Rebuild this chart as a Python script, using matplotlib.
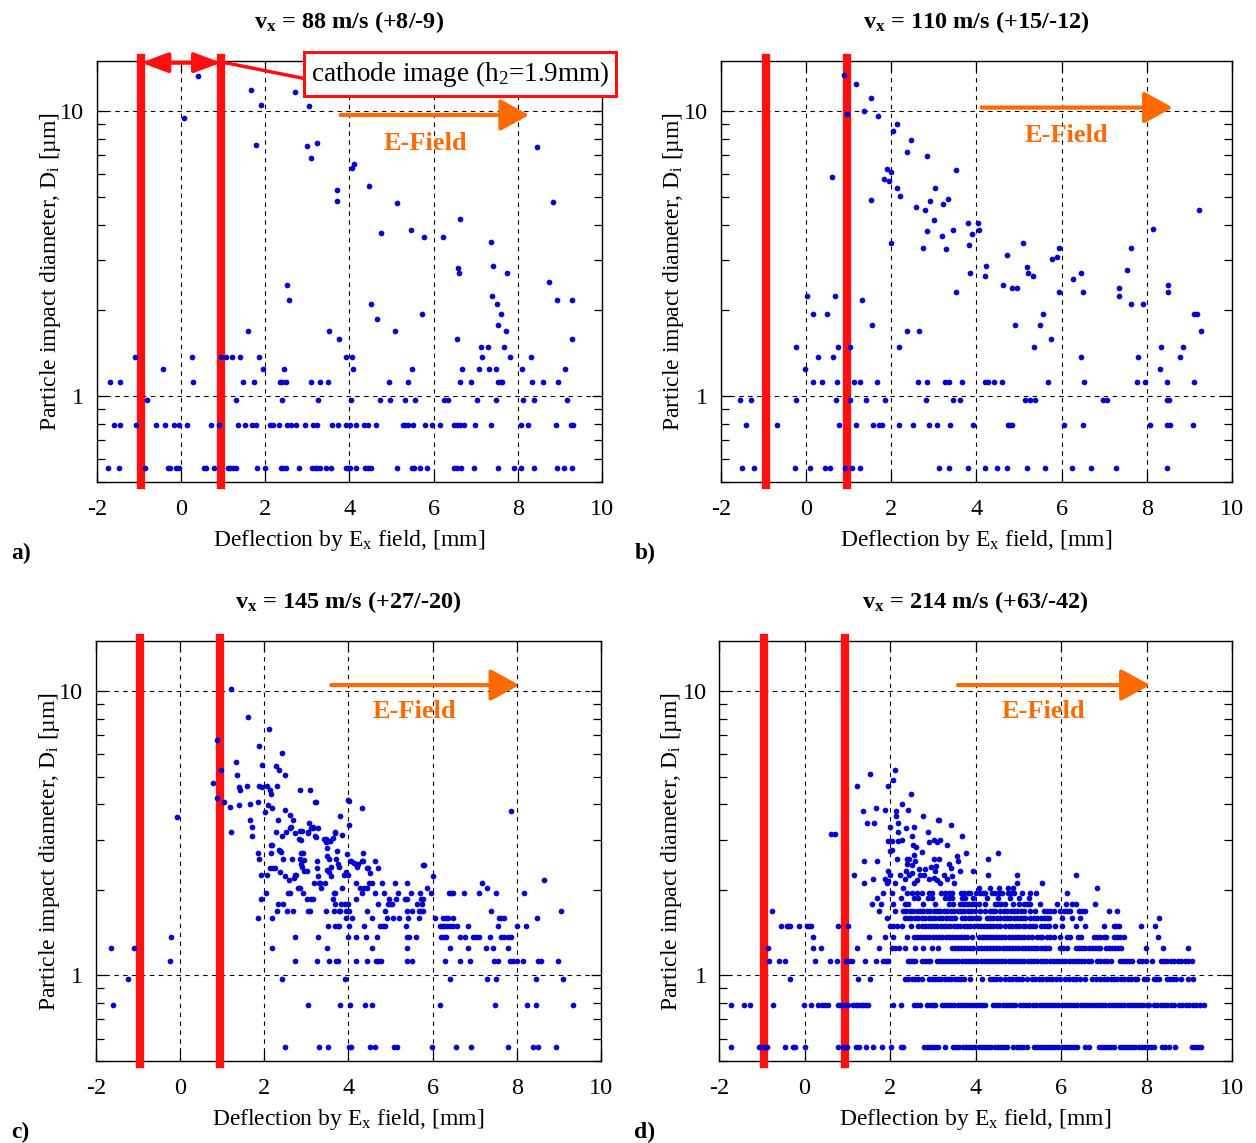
import matplotlib

matplotlib.use("Agg")

import matplotlib.pyplot as plt
from matplotlib.ticker import FixedLocator, FixedFormatter, LogLocator, NullFormatter

plt.rcParams["font.family"] = "Liberation Serif"
plt.rcParams["mathtext.fontset"] = "custom"
plt.rcParams["mathtext.rm"] = "Liberation Serif"
plt.rcParams["mathtext.it"] = "Liberation Serif:italic"
plt.rcParams["mathtext.bf"] = "Liberation Serif:bold"
plt.rcParams["axes.unicode_minus"] = False

DOT = "#0404cc"
RED = "#ff1010"
ORANGE = "#ff6a00"

TITLES = [
    r"$\mathbf{v_x}$ = 88 m/s (+8/-9)",
    r"$\mathbf{v_x}$ = 110 m/s (+15/-12)",
    r"$\mathbf{v_x}$ = 145 m/s (+27/-20)",
    r"$\mathbf{v_x}$ = 214 m/s (+63/-42)",
]
LETTERS = ["a)", "b)", "c)", "d)"]
CATHODE_EDGES = [-0.95, 0.95]

# ---- panel a: scattered points (x [mm], D [um]) and quantised rows ----
A_X = [0.40, 0.07, 1.65, 1.90, 2.70, 3.05, 1.78, 2.98, 3.23, 3.09, 4.06, 4.10, 3.71, 3.71,
       4.47, 5.14, 4.75, 5.46, 5.78, 6.23, 6.63, 6.58, 6.60, 7.36, 7.40, 7.74, 8.45, 8.84,
       8.74, 8.92, 9.29, 9.29, 2.52, 2.57, 1.59, 3.52, 3.76, 4.52, 4.66, 5.09, 5.72, 7.38,
       7.50, 7.59, 7.54, 7.72, 6.56, 7.12, 7.30, 7.66]
A_D = [13.3, 9.5, 11.9, 10.5, 11.7, 10.4, 7.6, 7.57, 7.73, 6.88, 6.32, 6.53, 5.3, 4.86,
       5.48, 4.76, 3.75, 3.83, 3.61, 3.61, 4.18, 2.81, 2.71, 3.47, 2.87, 2.70, 7.5, 4.81,
       2.52, 2.18, 2.18, 1.59, 2.45, 2.18, 1.69, 1.69, 1.59, 2.11, 1.86, 1.69, 1.95, 2.25,
       2.11, 1.95, 1.78, 1.69, 1.59, 1.49, 1.49, 1.49]
A_ROWS = {
    0.56: [-1.73, -1.48, -0.87, -0.32, -0.26, -0.13, -0.06, 0.54, 0.59, 0.77, 1.11, 1.16, 1.23,
           1.30, 1.81, 2.00, 2.38, 2.43, 2.49, 2.79, 3.10, 3.17, 3.22, 3.29, 3.45, 3.56, 3.91,
           3.96, 4.02, 4.15, 4.38, 4.43, 4.50, 5.14, 5.48, 5.53, 5.67, 5.83, 6.48, 6.55, 6.65,
           6.96, 7.54, 7.91, 8.07, 8.38, 8.93, 9.10, 9.28],
    0.79: [-1.59, -1.45, -1.08, -0.59, -0.39, -0.16, -0.06, 0.14, 0.71, 0.89, 1.34, 1.52, 1.68,
           1.78, 2.12, 2.19, 2.32, 2.52, 2.62, 2.72, 2.95, 3.13, 3.22, 3.59, 3.72, 3.91, 4.01,
           4.15, 4.35, 4.43, 4.63, 5.26, 5.33, 5.40, 5.50, 5.80, 5.95, 6.14, 6.48, 6.56, 6.63,
           6.71, 6.98, 7.37, 8.08, 8.23, 8.91, 9.26, 9.30],
    0.97: [-0.81, 1.31, 2.40, 3.25, 4.03, 4.72, 4.96, 5.33, 5.56, 6.25, 6.34, 7.02, 7.47, 8.12,
           8.38, 9.18],
    1.12: [-1.70, -1.45, 0.29, 1.48, 1.73, 2.34, 2.40, 2.49, 3.09, 3.29, 3.50, 4.95, 5.39, 6.63,
           6.89, 7.53, 7.59, 7.63, 8.34, 8.60, 8.95],
    1.25: [-0.43, 1.94, 2.45, 4.09, 5.49, 6.67, 7.08, 7.31, 7.47, 8.11, 9.12],
    1.37: [-1.09, 0.27, 0.94, 1.06, 1.22, 1.41, 1.84, 3.92, 4.06, 7.16, 7.81, 8.32],
}

# ---- panel b ----
B_X = [0.88, 0.96, 1.17, 1.53, 1.35, 1.69, 2.13, 2.04, 2.46, 2.38, 2.83, 0.60, 1.89, 1.99,
       1.84, 1.95, 3.52, 2.14, 2.21, 3.02, 1.52, 2.58, 2.80, 2.91, 3.21, 3.32, 3.00, 2.84,
       2.74, 3.20, 3.29, 3.45, 1.99, 3.79, 4.04, 4.07, 3.89, 3.82, 3.85, 3.51, 4.23, 4.20,
       4.71, 4.63, 4.84, 4.96, 5.10, 5.19, 5.21, 5.32, 5.77, 5.89, 5.93, 5.93, 6.27, 6.45,
       6.49, 7.53, 7.63, 7.35, 7.35, 7.63, 7.90, 8.15, 8.49, 8.50, 9.23, 9.10, 9.17, 9.27,
       8.34, 8.85, 8.79, 8.31, 7.80, 6.45, 5.57, 5.48, 4.91, 5.74, 5.36, 0.03, 0.68, 1.31,
       0.15, 0.49, 1.55, 2.36, 2.66, -0.24, 0.76, 1.02, 2.18, 0.29, 0.64, -0.02]
B_D = [13.4, 9.8, 12.5, 11.1, 10.0, 9.6, 9.04, 8.5, 7.9, 7.18, 6.95, 5.9, 6.27, 6.14,
       5.78, 5.7, 6.2, 5.39, 5.05, 5.39, 4.89, 4.63, 4.5, 4.86, 4.73, 4.94, 4.15, 3.79,
       3.32, 3.65, 3.29, 3.83, 3.44, 4.06, 4.06, 3.83, 3.71, 3.38, 2.70, 2.32, 2.87, 2.65,
       3.13, 2.45, 2.39, 2.39, 3.44, 2.83, 2.71, 2.65, 3.03, 3.08, 3.32, 2.32, 2.58, 2.70,
       2.32, 2.77, 3.32, 2.39, 2.25, 2.11, 2.11, 3.87, 2.45, 2.32, 4.5, 1.95, 1.95, 1.69,
       1.49, 1.49, 1.37, 1.25, 1.37, 1.37, 1.95, 1.78, 1.78, 1.59, 1.49, 2.25, 2.25, 2.18,
       1.95, 1.95, 1.78, 1.69, 1.69, 1.49, 1.49, 1.49, 1.49, 1.37, 1.37, 1.25]
B_ROWS = {
    0.56: [-1.51, -1.23, -0.27, 0.09, 0.45, 0.57, 0.91, 1.08, 1.27, 3.12, 3.35, 3.79, 4.20,
           4.49, 4.71, 5.18, 5.62, 6.24, 6.70, 7.27, 8.48],
    0.79: [-1.41, -0.68, 0.78, 1.18, 1.56, 1.70, 1.77, 2.17, 2.52, 2.88, 3.08, 3.38, 3.92,
           4.74, 4.78, 4.83, 6.05, 6.50, 8.08, 8.47, 8.55, 9.09],
    0.97: [-1.55, -1.29, -0.24, 0.69, 1.03, 1.40, 1.85, 2.82, 3.45, 3.62, 5.13, 5.25, 5.37,
           6.96, 7.07, 8.47, 8.53],
    1.12: [0.16, 0.37, 0.73, 1.13, 1.26, 1.66, 2.62, 2.84, 3.26, 3.36, 3.66, 4.20, 4.27, 4.40,
           4.60, 5.68, 6.52, 7.77, 7.95, 8.48, 9.10],
}

# ---- panel c ----
C_X = [-0.08, 0.87, 0.97, 0.79, 0.87, 1.20, 1.62, 2.12, 1.88, 2.43, 1.32, 1.34, 1.95, 2.28,
       2.34, 2.49, 1.39, 1.43, 1.58, 1.88, 1.95, 2.07, 2.14, 2.17, 2.30, 1.05, 1.18, 1.39,
       1.67, 1.86, 2.09, 2.19, 2.01, 2.86, 3.09, 3.20, 3.99, 4.32, 4.01, 3.81, 2.50, 2.62,
       2.68, 2.32, 1.22, 1.67, 1.70, 1.70, 2.27, 2.41, 2.52, 2.60, 2.63, 2.74, 2.82, 2.87,
       2.85, 3.06, 3.10, 3.16, 3.28, 3.05, 3.21, 3.67, 3.85, 3.43, 3.46, 3.52, 3.57, 3.63,
       2.16, 2.18, 2.38, 2.36, 2.40, 2.45, 1.84, 1.88, 2.16, 2.65, 2.87, 2.91, 2.86, 2.94,
       2.87, 2.89, 2.94, 3.02, 3.25, 3.25, 3.48, 3.49, 3.54, 3.59, 3.54, 3.48, 3.73, 3.71,
       3.76, 3.78, 3.97, 4.03, 3.93, 3.90, 4.13, 4.21, 4.23, 4.35, 4.34, 4.44, 4.62, 4.69,
       2.13, 2.21, 2.26, 2.37, 2.48, 2.72, 2.71, 1.92, 2.07, 2.58, 2.75, 5.77, 6.00, 7.85,
       8.65, 3.27, 3.59, 3.98, 4.46, 4.51, 5.79, 3.23, 4.02, 3.15, 2.89, 3.03, 3.22, 3.47,
       3.55, 3.68, 4.07, 4.17, 4.32]
C_D = [3.6, 6.73, 5.27, 4.75, 4.22, 10.2, 8.1, 7.34, 6.41, 6.07, 5.61, 5.08, 5.49, 5.44,
       5.27, 5.05, 4.6, 4.48, 4.64, 4.64, 4.6, 4.64, 4.5, 4.33, 4.64, 4.07, 3.92, 3.96,
       4.01, 4.06, 3.96, 3.88, 3.75, 4.48, 4.48, 4.06, 4.15, 3.88, 3.38, 3.64, 3.83, 3.67,
       3.53, 3.53, 3.19, 3.53, 3.32, 3.09, 3.19, 3.09, 3.19, 3.30, 3.32, 3.16, 3.01, 3.0,
       3.23, 3.43, 3.30, 3.30, 3.29, 3.19, 3.09, 3.19, 3.13, 3.03, 2.94, 2.97, 2.96, 3.04,
       2.88, 2.88, 2.75, 2.77, 2.71, 2.56, 2.69, 2.57, 2.69, 2.56, 2.69, 2.69, 2.56, 2.54,
       2.46, 2.40, 2.33, 2.33, 2.52, 2.38, 2.80, 2.63, 2.56, 2.40, 2.32, 2.34, 2.75, 2.56,
       2.46, 2.40, 2.68, 2.52, 2.32, 2.25, 2.48, 2.40, 2.46, 2.52, 2.70, 2.38, 2.52, 2.38,
       2.38, 2.38, 2.38, 2.32, 2.24, 2.25, 2.21, 2.25, 2.25, 2.17, 2.25, 2.44, 2.24, 3.78,
       2.17, 2.24, 2.24, 2.26, 2.38, 2.30, 2.45, 4.06, 4.10, 3.32, 3.23, 3.18, 3.08, 3.02,
       2.96, 3.17, 2.52, 2.46, 2.52]
C_ROWS = {
    0.56: [2.49, 3.29, 3.52, 4.01, 4.05, 4.52, 4.62, 5.07, 5.15, 5.99, 6.55, 6.90, 7.80, 8.39,
           8.51, 8.92],
    0.79: [-1.60, 3.03, 3.79, 4.04, 4.40, 4.56, 6.17, 7.49, 8.23, 8.45, 9.34],
    0.97: [-1.24, 2.41, 3.92, 6.41, 7.30, 7.50, 8.45, 9.10],
    1.12: [-0.23, 2.72, 3.26, 3.53, 3.71, 3.76, 4.19, 4.45, 4.65, 4.69, 4.77, 5.38, 5.52, 6.29,
           6.65, 6.89, 7.45, 7.56, 7.84, 7.91, 8.01, 8.15, 8.51, 8.57, 8.99],
    1.25: [-1.65, -1.09, 2.19, 3.49, 4.56, 5.38, 6.41, 6.85, 7.27, 7.44, 7.80],
    1.37: [-0.22, 2.72, 3.28, 3.99, 4.19, 4.42, 4.68, 5.38, 5.44, 5.61, 6.21, 6.27, 6.31, 6.65,
           6.77, 6.96, 7.03, 7.10, 7.36, 7.62, 7.70, 7.78, 7.87],
    1.49: [3.51, 3.69, 3.74, 3.78, 4.02, 4.37, 4.75, 4.81, 4.86, 5.37, 6.17, 6.22, 6.27, 6.35,
           6.41, 6.49, 6.57, 6.85, 7.56, 8.01, 8.21],
    1.59: [1.84, 2.19, 3.95, 4.09, 4.57, 4.92, 5.06, 5.19, 5.42, 5.68, 6.05, 6.25, 6.31, 6.37,
           6.49, 7.57, 7.63, 7.69, 8.48],
    1.69: [2.30, 2.53, 2.68, 3.04, 3.08, 3.46, 3.65, 3.78, 3.81, 3.93, 4.01, 4.45, 4.86, 5.40,
           5.52, 5.68, 5.72, 5.76, 7.38, 9.05],
    1.78: [2.32, 2.45, 3.67, 3.82, 3.91, 4.00, 4.70, 4.94, 4.99, 5.03, 5.62, 5.74],
    1.86: [1.93, 3.02, 3.11, 3.15, 3.64, 4.19, 4.96, 5.12, 5.34, 5.40, 5.72, 5.78],
    1.95: [2.05, 2.56, 2.60, 2.91, 3.65, 3.69, 4.32, 4.62, 4.85, 5.17, 5.49, 5.69, 5.95, 6.38,
           6.43, 6.48, 6.75, 7.09, 7.51, 8.17],
    2.03: [2.81, 2.85, 3.35, 3.84, 4.28, 4.38, 4.44, 5.87, 7.28],
    2.11: [3.17, 3.29, 3.32, 3.45, 4.18, 4.49, 4.56, 4.79, 5.10, 5.38, 7.18],
}

# ---- panel d ----
D_X = [2.11, 2.06, 1.95, 1.52, 1.22, 2.50, 2.28, 1.36, 1.66, 1.88, 2.14, 2.43, 2.77, 3.12,
       3.15, 3.42, 3.69, 1.45, 1.62, 2.19, 2.18, 2.00, 2.56, 2.38, 2.14, 0.63, 0.71, 1.96,
       2.04, 2.18, 2.28, 2.51, 2.53, 2.61, 2.91, 3.03, 3.11, 3.17, 3.34, 2.88, 2.00, 2.05,
       2.17, 2.39, 2.45, 2.56, 2.74, 3.03, 3.15, 3.37, 3.43, 3.56, 3.60, 3.78, 4.52, 4.29,
       1.39, 1.70, 2.39, 2.51, 2.59, 2.67, 2.82, 2.95, 3.08, 3.05, 1.95, 2.00, 1.88, 1.96,
       2.23, 2.35, 2.38, 2.45, 2.51, 2.63, 2.69, 2.80, 2.90, 3.02, 3.09, 3.27, 3.34, 3.45,
       3.64, 3.95, 4.29, 4.98, 6.35, 1.16, 1.59]
D_D = [5.27, 4.88, 4.64, 5.10, 4.64, 4.33, 4.02, 3.79, 3.88, 3.83, 3.79, 3.83, 3.65, 3.51,
       3.53, 3.37, 3.09, 3.43, 3.43, 3.43, 3.19, 3.32, 3.32, 3.29, 3.65, 3.14, 3.14, 2.98,
       2.98, 2.98, 2.99, 3.09, 2.88, 2.82, 2.94, 2.99, 2.94, 2.99, 2.88, 3.19, 2.75, 2.77,
       2.57, 2.57, 2.57, 2.66, 2.71, 2.57, 2.57, 2.46, 2.38, 2.64, 2.52, 2.69, 2.69, 2.57,
       2.52, 2.52, 2.46, 2.44, 2.53, 2.37, 2.37, 2.40, 2.43, 2.33, 2.33, 2.25, 2.19, 2.15,
       2.25, 2.18, 2.33, 2.25, 2.30, 2.16, 2.25, 2.25, 2.18, 2.21, 2.16, 2.25, 2.18, 2.24,
       2.33, 2.33, 2.25, 2.25, 2.25, 2.25, 2.18]
D_ROWS = {
    0.56: [-1.73, -1.06, -1.01, -0.95, -0.87, -0.45, -0.27, -0.22, 0.02, 0.78, 0.91, 0.95, 1.00,
           1.21, 1.27, 1.43, 1.61, 1.81, 2.02, 2.25, 2.30, 2.80, 2.86, 2.92, 2.97, 3.05, 3.13,
           3.28, 3.48, 3.55, 3.62, 3.70, 3.77, 3.84, 3.92, 3.99, 4.07, 4.14, 4.22, 4.30, 4.37,
           4.45, 4.52, 4.60, 4.67, 4.73, 4.88, 4.96, 5.04, 5.12, 5.20, 5.36, 5.43, 5.50, 5.58,
           5.65, 5.72, 5.80, 5.87, 5.94, 6.02, 6.09, 6.16, 6.24, 6.31, 6.38, 6.55, 6.66, 6.88,
           6.96, 7.03, 7.10, 7.16, 7.25, 7.38, 7.45, 7.52, 7.60, 7.67, 7.74, 7.82, 7.89, 7.96,
           8.04, 8.11, 8.17, 8.37, 8.44, 8.52, 8.66, 9.07, 9.14, 9.20, 9.27],
    0.79: [-1.73, -1.42, -1.28, -0.73, -0.02, 0.16, 0.32, 0.40, 0.48, 0.55, 0.79, 0.84, 0.91,
           0.97, 1.02, 1.14, 1.20, 1.26, 1.31, 1.37, 1.44, 1.49, 2.06, 2.26, 2.57, 2.62, 2.69,
           2.87, 2.94, 3.00, 3.05, 3.21, 3.28, 3.36, 3.43, 3.50, 3.58, 3.65, 3.72, 3.80, 3.87,
           3.94, 4.02, 4.09, 4.16, 4.23, 4.42, 4.49, 4.56, 4.64, 4.71, 4.78, 4.86, 4.93, 5.03,
           5.10, 5.18, 5.26, 5.34, 5.42, 5.50, 5.58, 5.65, 5.72, 5.80, 5.87, 5.94, 6.02, 6.09,
           6.16, 6.24, 6.31, 6.38, 6.46, 6.53, 6.60, 6.68, 6.75, 6.82, 6.90, 6.97, 7.04, 7.12,
           7.19, 7.26, 7.34, 7.41, 7.48, 7.56, 7.63, 7.70, 7.78, 7.85, 7.92, 8.00, 8.05, 8.17,
           8.25, 8.33, 8.41, 8.49, 8.57, 8.64, 8.76, 8.84, 8.92, 9.00, 9.08, 9.16, 9.24, 9.34],
    0.97: [-0.33, 1.25, 1.52, 2.35, 2.43, 2.51, 2.59, 2.66, 2.74, 2.90, 2.97, 3.05, 3.13, 3.20,
           3.28, 3.36, 3.43, 3.51, 3.58, 3.66, 3.72, 3.88, 4.15, 4.33, 4.41, 4.49, 4.58, 4.70,
           4.78, 4.86, 4.94, 5.01, 5.09, 5.20, 5.32, 5.40, 5.48, 5.56, 5.64, 5.72, 5.80, 5.88,
           5.98, 6.10, 6.18, 6.27, 6.36, 6.45, 6.57, 6.73, 6.82, 6.91, 7.00, 7.08, 7.16, 7.24,
           7.32, 7.40, 7.48, 7.56, 7.64, 7.72, 7.77, 7.94, 8.02, 8.17, 8.23, 8.29, 8.48, 8.55,
           8.62, 8.68, 8.80, 8.97, 9.09],
    1.12: [-0.83, -0.59, -0.46, 0.24, 0.59, 0.75, 0.97, 1.03, 1.10, 1.41, 1.66, 1.84, 1.90,
           1.96, 2.41, 2.47, 2.53, 2.59, 2.74, 2.81, 2.88, 2.94, 3.09, 3.16, 3.24, 3.31, 3.38,
           3.46, 3.53, 3.60, 3.68, 3.75, 3.82, 3.90, 3.97, 4.04, 4.12, 4.19, 4.26, 4.34, 4.41,
           4.48, 4.56, 4.63, 4.70, 4.78, 4.85, 4.92, 5.00, 5.07, 5.14, 5.22, 5.29, 5.36, 5.44,
           5.52, 5.59, 5.66, 5.74, 5.81, 5.88, 5.96, 6.03, 6.10, 6.18, 6.25, 6.32, 6.40, 6.47,
           6.54, 6.62, 6.69, 6.84, 6.92, 7.00, 7.08, 7.16, 7.39, 7.46, 7.53, 7.60, 7.66, 7.82,
           7.90, 7.98, 8.13, 8.33, 8.41, 8.49, 8.57, 8.65, 8.73, 8.81, 8.89, 8.97, 9.07],
    1.25: [-0.85, 0.20, 0.38, 1.23, 1.75, 2.04, 2.12, 2.20, 2.35, 2.59, 2.78, 2.98, 3.13, 3.46,
           3.53, 3.60, 3.67, 3.74, 3.81, 3.88, 3.95, 4.05, 4.12, 4.20, 4.27, 4.34, 4.42, 4.49,
           4.56, 4.64, 4.71, 4.78, 4.86, 4.93, 5.00, 5.08, 5.15, 5.22, 5.30, 5.37, 5.44, 5.52,
           5.59, 5.66, 5.71, 5.97, 6.05, 6.14, 6.34, 6.42, 6.50, 6.57, 6.65, 6.73, 6.80, 6.86,
           6.92, 7.06, 7.13, 7.20, 7.27, 7.34, 7.41, 7.98, 8.38, 8.97],
    1.37: [0.20, 1.50, 1.89, 2.06, 2.39, 2.55, 2.62, 2.70, 2.77, 2.85, 2.92, 3.00, 3.07, 3.15,
           3.22, 3.30, 3.37, 3.45, 3.52, 3.60, 3.67, 3.74, 3.80, 3.91, 4.07, 4.14, 4.20, 4.27,
           4.34, 4.41, 4.49, 4.56, 4.63, 4.70, 4.78, 4.85, 4.92, 5.00, 5.07, 5.14, 5.22, 5.32,
           5.44, 5.50, 5.55, 5.67, 5.75, 5.84, 5.98, 6.13, 6.20, 6.39, 6.47, 6.77, 6.84, 6.92,
           7.00, 7.06, 7.23, 7.31, 7.39, 7.47, 8.27],
    1.49: [-0.56, -0.42, -0.38, -0.33, -0.14, 0.05, 0.11, 0.16, 0.79, 1.02, 2.00, 2.08, 2.16,
           2.27, 2.49, 2.66, 2.74, 2.81, 2.89, 2.96, 3.04, 3.11, 3.19, 3.26, 3.34, 3.41, 3.49,
           3.56, 3.64, 3.72, 3.80, 3.88, 3.97, 4.05, 4.12, 4.20, 4.27, 4.35, 4.42, 4.50, 4.58,
           4.70, 4.78, 4.86, 4.94, 5.02, 5.10, 5.16, 5.24, 5.32, 5.40, 5.52, 5.60, 5.67, 5.73,
           5.87, 6.02, 6.34, 6.57, 7.00, 7.23, 7.29, 7.35, 7.86, 8.21],
    1.59: [1.92, 2.35, 2.42, 2.50, 2.58, 2.66, 2.74, 2.82, 2.90, 2.98, 3.06, 3.14, 3.22, 3.30,
           3.38, 3.45, 3.52, 3.68, 3.76, 3.84, 3.92, 4.00, 4.08, 4.27, 4.34, 4.42, 4.50, 4.58,
           4.66, 4.73, 4.81, 4.91, 4.97, 5.04, 5.10, 5.16, 5.28, 5.36, 5.44, 5.52, 5.60, 5.67,
           5.71, 6.02, 6.26, 6.45, 8.30],
    1.69: [-0.75, 1.74, 2.12, 2.31, 2.38, 2.46, 2.54, 2.62, 2.70, 2.78, 2.86, 2.94, 3.02, 3.10,
           3.18, 3.26, 3.34, 3.42, 3.50, 3.58, 3.66, 3.74, 3.82, 3.90, 3.99, 4.11, 4.23, 4.33,
           4.40, 4.46, 4.58, 4.66, 4.74, 4.82, 4.90, 4.98, 5.06, 5.13, 5.28, 5.40, 5.59, 5.67,
           5.75, 5.83, 5.98, 6.06, 6.14, 6.22, 6.41, 6.48, 6.55, 7.13, 7.30],
    1.78: [1.57, 1.79, 2.08, 2.34, 2.43, 2.78, 3.05, 3.37, 3.48, 3.63, 3.70, 3.78, 3.84, 3.92,
           3.99, 4.07, 4.23, 4.46, 4.53, 4.60, 4.68, 4.88, 5.01, 5.13, 5.20, 5.28, 5.50, 5.91,
           6.12, 6.26, 6.34, 6.79],
    1.87: [1.69, 2.25, 2.57, 2.66, 2.88, 2.98, 3.29, 3.37, 3.45, 3.68, 3.76, 3.95, 4.27, 4.52,
           4.81, 5.02, 5.24],
    1.95: [1.84, 2.04, 2.39, 2.51, 2.63, 2.74, 2.90, 2.98, 3.19, 3.29, 3.37, 3.46, 3.66, 3.74,
           3.82, 3.88, 4.02, 4.10, 4.17, 4.23, 4.38, 4.46, 4.54, 4.62, 4.77, 4.84, 4.89, 5.09,
           5.28, 5.42, 6.14],
    2.03: [2.30, 4.07, 4.33, 4.55, 4.77, 4.88, 6.85],
    2.11: [1.39, 1.92, 2.12, 2.55, 3.16, 3.50, 4.97, 5.55],
}

# E-field arrow (start x, end x, y) and label position, per panel
ARROWS = [(3.79, 8.27, 9.7), (4.12, 8.61, 10.3), (3.59, 8.06, 10.5), (3.59, 8.08, 10.5)]
EFIELD_POS = [(5.8, 7.7), (6.1, 8.2), (5.57, 8.45), (5.58, 8.45)]

PANELS = [
    (A_X, A_D, A_ROWS),
    (B_X, B_D, B_ROWS),
    (C_X, C_D, C_ROWS),
    (D_X, D_D, D_ROWS),
]
AX_RECTS = [
    [0.0772, 0.5783, 0.4021, 0.3683],
    [0.5740, 0.5783, 0.4069, 0.3683],
    [0.0764, 0.0717, 0.4021, 0.3675],
    [0.5725, 0.0717, 0.4084, 0.3675],
]
LETTER_POS = [(0.009, 0.5162), (0.505, 0.5162), (0.009, 0.0096), (0.505, 0.0096)]


def draw_panel(ax, xs, ds, rows, idx):
    for level, row_x in rows.items():
        ax.plot(row_x, [level] * len(row_x), "o", ms=4.1, color=DOT, mec="none", zorder=5)
    ax.plot(xs, ds, "o", ms=4.1, color=DOT, mec="none", zorder=5)

    ax.set_yscale("log")
    ax.set_xlim(-2, 10)
    ax.set_ylim(0.5, 15)

    ax.xaxis.set_major_locator(FixedLocator([-2, 0, 2, 4, 6, 8, 10]))
    ax.yaxis.set_major_locator(FixedLocator([1, 10]))
    ax.yaxis.set_major_formatter(FixedFormatter(["1", "10"]))
    ax.yaxis.set_minor_locator(LogLocator(base=10, subs=range(2, 10)))
    ax.yaxis.set_minor_formatter(NullFormatter())
    ax.tick_params(which="both", direction="in", top=True, right=True, width=0.9,
                   labelsize=17.5)
    ax.tick_params(which="major", length=7)
    ax.tick_params(which="minor", length=6)
    ax.tick_params(axis="x", pad=12)
    ax.tick_params(axis="y", pad=9)
    ax.grid(True, which="major", color="black", linestyle=(0, (4, 4)), linewidth=0.8)
    for sp in ax.spines.values():
        sp.set_linewidth(1.0)

    for xc in CATHODE_EDGES:
        ax.axvline(xc, ymin=-0.008, ymax=1.008, color=RED, lw=6, clip_on=False, zorder=4)

    x0, x1, ya = ARROWS[idx]
    ax.annotate("", xy=(x1, ya), xytext=(x0, ya),
                arrowprops=dict(arrowstyle="-|>,head_length=0.4,head_width=0.22",
                                color=ORANGE, lw=3, mutation_scale=44,
                                shrinkA=0, shrinkB=0), zorder=6)
    ex, ey = EFIELD_POS[idx]
    ax.text(ex, ey, "E-Field", color=ORANGE, fontsize=19, fontweight="bold",
            ha="center", va="center", zorder=6)

    ax.set_title(TITLES[idx], fontsize=17.5, fontweight="bold", pad=24)
    ax.set_xlabel(r"Deflection by E$_\mathrm{x}$ field, [mm]", fontsize=17, labelpad=6)
    ax.set_ylabel(r"Particle impact diameter, D$_\mathrm{i}$ [µm]", fontsize=17)
    ax.yaxis.set_label_coords(-0.068, 0.5)


def main() -> None:
    fig = plt.figure(figsize=(12.56, 11.43), dpi=100)
    for idx, (xs, ds, rows) in enumerate(PANELS):
        ax = fig.add_axes(AX_RECTS[idx])
        draw_panel(ax, xs, ds, rows, idx)
        fig.text(*LETTER_POS[idx], LETTERS[idx], fontsize=17, fontweight="bold",
                 ha="left", va="center")
        if idx == 0:
            ax.annotate("", xy=(CATHODE_EDGES[0], 14.8), xytext=(CATHODE_EDGES[1], 14.8),
                        arrowprops=dict(arrowstyle="<|-|>,head_length=0.8,head_width=0.3",
                                        color=RED, lw=3, mutation_scale=20,
                                        shrinkA=0, shrinkB=0),
                        annotation_clip=False, zorder=7)
            ax.plot([CATHODE_EDGES[1], 2.95], [14.9, 13.0], color=RED, lw=2.5,
                    clip_on=False, zorder=7)
            ax.text(3.08, 13.55, r"cathode image (h$_2$=1.9mm)", fontsize=19.5,
                    ha="left", va="center", zorder=8, clip_on=False,
                    bbox=dict(boxstyle="square,pad=0.26", fc="white", ec=RED, lw=2.2))

    fig.savefig("out.png", dpi=100)
    plt.close(fig)


if __name__ == "__main__":
    main()
